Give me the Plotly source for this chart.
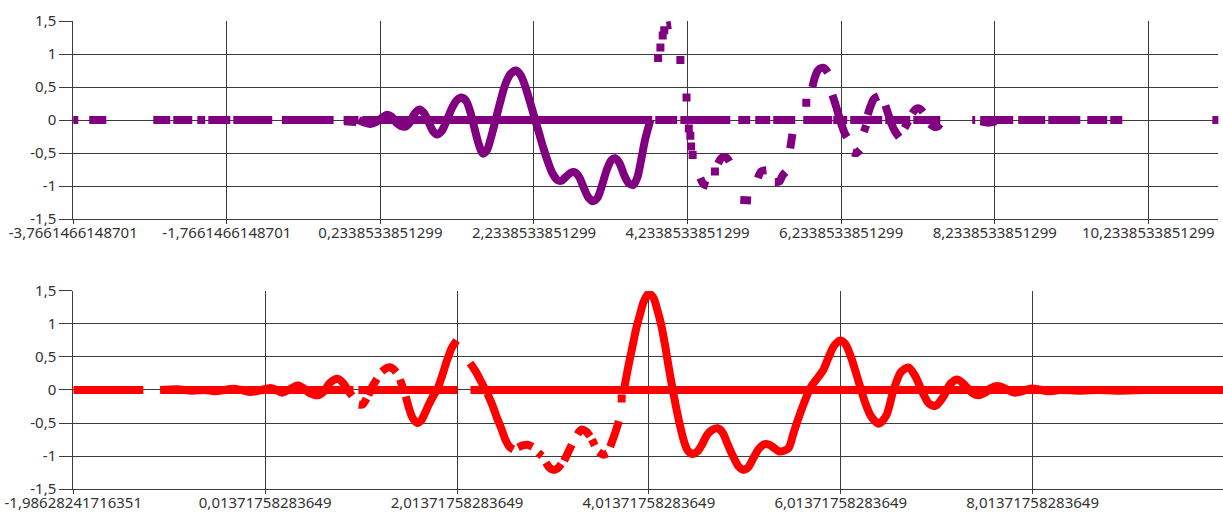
import plotly.graph_objects as go

# ---------------- upper panel (purple samples) ----------------
top_xticks = [-3.7661466148701, -1.7661466148701, 0.2338533851299, 2.2338533851299,
              4.2338533851299, 6.2338533851299, 8.2338533851299, 10.2338533851299]
top_xlabels = ["-3,7661466148701", "-1,7661466148701", "0,2338533851299", "2,2338533851299",
               "4,2338533851299", "6,2338533851299", "8,2338533851299", "10,2338533851299"]
top_xrange = [-3.7661466148701, 11.146]

# stretches of samples lying on the zero level (from, to)
top_zero_from = [-3.558, -2.724, -2.464, -2.151, -2.008, -1.682, -1.049, -0.246, -0.003,
                 3.813, 4.139, 4.894, 5.115, 5.349, 5.740, 6.131, 6.352, 6.808, 7.173,
                 7.941, 8.045, 8.540, 8.931, 9.439, 9.738]
top_zero_to = [-3.336, -2.503, -2.216, -2.047, -1.721, -1.175, -0.376, -0.051, 3.774,
               4.099, 4.790, 5.050, 5.310, 5.636, 6.118, 6.313, 6.769, 7.134, 7.525,
               7.980, 8.475, 8.892, 9.348, 9.699, 9.895]

# runs of consecutive signal samples
top_runs_x = [
    [-0.05, 0.03, 0.10, 0.18, 0.26, 0.32, 0.38, 0.44, 0.50, 0.56, 0.62, 0.68, 0.74, 0.80,
     0.86, 0.92, 0.97, 1.03, 1.10, 1.17, 1.23, 1.29, 1.35, 1.41, 1.46, 1.51, 1.57, 1.62,
     1.68, 1.74, 1.80, 1.86, 1.93, 2.00, 2.06, 2.12, 2.18, 2.24, 2.30, 2.36, 2.42, 2.48,
     2.54, 2.59, 2.65, 2.71, 2.76, 2.82, 2.88, 2.94, 3.00, 3.06, 3.12, 3.18, 3.24, 3.29,
     3.35, 3.41, 3.47, 3.53, 3.58, 3.63, 3.68, 3.75],
    [3.96, 4.02],
    [4.40, 4.44, 4.50],
    [4.63, 4.68, 4.74, 4.78],
    [4.92, 5.06],
    [5.15, 5.19, 5.26],
    [5.37, 5.43, 5.47, 5.51],
    [5.57, 5.60],
    [5.86, 5.89, 5.93, 5.98, 6.02, 6.06],
    [6.12, 6.17, 6.22, 6.28, 6.31],
    [6.38, 6.43, 6.48],
    [6.53, 6.56],
    [6.58, 6.62, 6.66, 6.72],
    [6.81, 6.85, 6.89, 6.94, 6.99],
    [7.06, 7.11],
    [7.16, 7.21, 7.26, 7.30],
    [7.39, 7.44, 7.49, 7.52],
    [8.05, 8.15, 8.25],
    [-0.24, -0.08],
]
top_runs_y = [
    [0.0, -0.04, -0.06, -0.03, 0.04, 0.08, 0.05, -0.04, -0.09, -0.10, -0.03, 0.10, 0.16, 0.11,
     -0.03, -0.17, -0.22, -0.17, 0.0, 0.19, 0.30, 0.34, 0.29, 0.10, -0.13, -0.35, -0.51, -0.46,
     -0.24, 0.03, 0.30, 0.54, 0.70, 0.75, 0.68, 0.51, 0.28, 0.04, -0.20, -0.44, -0.65, -0.82,
     -0.91, -0.92, -0.86, -0.80, -0.79, -0.86, -1.02, -1.17, -1.23, -1.18, -0.99, -0.76, -0.61, -0.58,
     -0.66, -0.84, -0.96, -0.98, -0.87, -0.60, -0.30, 0.0],
    [1.43, 1.44],
    [-0.88, -0.97, -1.0],
    [-0.66, -0.57, -0.57, -0.63],
    [-1.21, -1.22],
    [-0.88, -0.78, -0.76],
    [-0.94, -0.93, -0.84, -0.79],
    [-0.43, -0.21],
    [0.50, 0.64, 0.75, 0.79, 0.78, 0.72],
    [0.38, 0.20, 0.0, -0.20, -0.26],
    [-0.49, -0.50, -0.45],
    [-0.18, -0.08],
    [0.08, 0.22, 0.32, 0.36],
    [0.22, 0.08, -0.06, -0.18, -0.26],
    [-0.12, -0.02],
    [0.10, 0.17, 0.17, 0.12],
    [-0.06, -0.10, -0.10, -0.06],
    [-0.02, -0.04, -0.02],
    [-0.02, -0.03],
]

# isolated samples
top_dots_x = [-3.753, 3.85, 3.88, 3.91, 3.93, 4.14, 4.22, 4.25, 4.27, 4.28, 4.30, 4.59, 5.78, 11.12]
top_dots_y = [0.0, 0.94, 1.10, 1.28, 1.36, 0.91, 0.34, -0.13, -0.24, -0.40, -0.53, -0.78, 0.26, 0.0]

# ---------------- lower panel (red samples) ----------------
bot_xticks = [-1.98628241716351, 0.01371758283649, 2.01371758283649,
              4.01371758283649, 6.01371758283649, 8.01371758283649]
bot_xlabels = ["-1,98628241716351", "0,01371758283649", "2,01371758283649",
               "4,01371758283649", "6,01371758283649", "8,01371758283649"]
bot_xrange = [-1.98628241716351, 9.998]

bot_zero_from = [-1.986, -1.079, 0.986, 2.154]
bot_zero_to = [-1.256, 0.934, 2.018, 9.998]

bot_runs_x = [
    [-1.08, -0.90, -0.75, -0.62, -0.51, -0.41, -0.32, -0.23, -0.14, -0.05, 0.07, 0.13,
     0.19, 0.27, 0.35, 0.41, 0.47, 0.56, 0.62, 0.69, 0.77, 0.83, 0.88, 0.92],
    [0.99, 1.03, 1.07],
    [1.09, 1.13, 1.18],
    [1.23, 1.29, 1.34, 1.38],
    [1.42, 1.45],
    [1.48, 1.51, 1.55, 1.60, 1.64, 1.68, 1.72, 1.77, 1.81, 1.86, 1.91, 1.96, 2.01],
    [2.15, 2.20, 2.25, 2.30],
    [2.33, 2.38, 2.43, 2.48, 2.52, 2.56, 2.60],
    [2.65, 2.70, 2.75, 2.80],
    [2.86, 2.90],
    [2.94, 2.98, 3.02, 3.06, 3.10],
    [3.13, 3.17, 3.21],
    [3.27, 3.31, 3.36, 3.40],
    [3.42, 3.45],
    [3.49, 3.54, 3.58],
    [3.61, 3.66, 3.70],
    [3.76, 3.80, 3.84, 3.88, 3.92, 3.96, 4.01, 4.06, 4.10, 4.14, 4.18, 4.22, 4.26, 4.30,
     4.34, 4.38, 4.42, 4.47, 4.52, 4.57, 4.62, 4.68, 4.73, 4.78, 4.84, 4.90, 4.95, 5.00,
     5.05, 5.10, 5.16, 5.22, 5.27, 5.32, 5.37, 5.42, 5.47, 5.52, 5.57, 5.63, 5.70, 5.76,
     5.83, 5.88, 5.94, 6.01, 6.06, 6.12, 6.17, 6.22, 6.27, 6.33, 6.41, 6.49, 6.56, 6.64,
     6.72, 6.79, 6.87, 6.93, 7.00, 7.08, 7.16, 7.23, 7.31, 7.39, 7.45, 7.52, 7.58, 7.65,
     7.73, 7.82, 7.90, 7.99, 8.08, 8.17, 8.30, 8.50, 8.70, 8.90, 9.20, 9.60, 9.99],
]
bot_runs_y = [
    [0.0, 0.01, -0.01, 0.0, -0.02, 0.0, 0.02, 0.0, -0.03, -0.01, 0.03, 0.0,
     -0.04, 0.01, 0.07, 0.03, -0.04, -0.08, -0.03, 0.11, 0.17, 0.10, -0.01, -0.09],
    [-0.22, -0.22, -0.13],
    [-0.08, 0.05, 0.17],
    [0.28, 0.34, 0.33, 0.27],
    [0.16, 0.03],
    [-0.10, -0.26, -0.42, -0.50, -0.46, -0.35, -0.22, -0.08, 0.02, 0.22, 0.45, 0.64, 0.75],
    [0.41, 0.30, 0.17, 0.03],
    [-0.05, -0.22, -0.42, -0.60, -0.76, -0.86, -0.90],
    [-0.87, -0.84, -0.83, -0.86],
    [-0.95, -1.0],
    [-1.10, -1.18, -1.21, -1.19, -1.12],
    [-1.07, -0.95, -0.83],
    [-0.67, -0.60, -0.63, -0.70],
    [-0.75, -0.84],
    [-0.94, -0.98, -0.96],
    [-0.86, -0.66, -0.47],
    [0.05, 0.36, 0.64, 0.92, 1.14, 1.34, 1.46, 1.40, 1.22, 1.00, 0.70, 0.35, 0.02, -0.28,
     -0.55, -0.78, -0.92, -0.97, -0.93, -0.82, -0.68, -0.60, -0.58, -0.64, -0.84, -1.03, -1.16, -1.21,
     -1.17, -1.04, -0.89, -0.82, -0.83, -0.88, -0.93, -0.92, -0.88, -0.66, -0.44, -0.20, 0.04, 0.16,
     0.30, 0.47, 0.66, 0.75, 0.70, 0.50, 0.27, 0.03, -0.20, -0.40, -0.51, -0.38, -0.02, 0.27,
     0.34, 0.21, -0.05, -0.20, -0.24, -0.11, 0.10, 0.16, 0.07, -0.05, -0.08, -0.04, 0.03, 0.06,
     0.02, -0.04, -0.02, 0.02, 0.01, -0.02, 0.0, -0.01, 0.0, -0.01, 0.0, 0.0, 0.0],
]
bot_dots_x = [3.73]
bot_dots_y = [-0.13]

# shared value axis
y_ticks = [-1.5, -1.0, -0.5, 0.0, 0.5, 1.0, 1.5]
y_labels = ["-1,5", "-1", "-0,5", "0", "0,5", "1", "1,5"]
zero_level = 0.0

PURPLE = "#800080"
RED = "#FF0000"
GRID = "#3c3c3c"
TEXT = "#333333"
FONT = "Noto Sans"
W = 8


def join_runs(runs_x, runs_y):
    xs, ys = [], []
    for rx, ry in zip(runs_x, runs_y):
        xs += list(rx) + [None]
        ys += list(ry) + [None]
    return xs, ys


def join_spans(starts, ends):
    xs, ys = [], []
    for a, b in zip(starts, ends):
        xs += [a, b, None]
        ys += [zero_level, zero_level, None]
    return xs, ys


fig = go.Figure()


def add_panel(color, zfrom, zto, runs_x, runs_y, dots_x, dots_y, xa, ya):
    zx, zy = join_spans(zfrom, zto)
    fig.add_trace(go.Scatter(x=zx, y=zy, mode="lines", xaxis=xa, yaxis=ya,
                             line=dict(color=color, width=W), hoverinfo="skip"))
    cx, cy = join_runs(runs_x, runs_y)
    fig.add_trace(go.Scatter(x=cx, y=cy, mode="lines", xaxis=xa, yaxis=ya,
                             line=dict(color=color, width=W, shape="spline", smoothing=0.8)))
    fig.add_trace(go.Scatter(x=dots_x, y=dots_y, mode="markers", xaxis=xa, yaxis=ya,
                             marker=dict(color=color, symbol="square", size=W)))


add_panel(PURPLE, top_zero_from, top_zero_to, top_runs_x, top_runs_y,
          top_dots_x, top_dots_y, "x", "y")
add_panel(RED, bot_zero_from, bot_zero_to, bot_runs_x, bot_runs_y,
          bot_dots_x, bot_dots_y, "x2", "y2")

tick_font = dict(family=FONT, size=15, color=TEXT)


def x_axis(domain, rng, vals, labels, anchor):
    return dict(domain=domain, range=rng, anchor=anchor, tickmode="array",
                tickvals=vals, ticktext=labels, showgrid=True, gridcolor=GRID,
                gridwidth=1, zeroline=False, showline=True, linecolor=GRID,
                linewidth=1, ticks="outside", ticklen=4, tickcolor=GRID,
                ticklabelstandoff=-4,
                tickfont=tick_font, fixedrange=True, automargin=False)


def y_axis(domain, anchor):
    return dict(domain=domain, range=[-1.5, 1.5], anchor=anchor, tickmode="array",
                tickvals=y_ticks, ticktext=y_labels, showgrid=True, gridcolor=GRID,
                gridwidth=1, zeroline=False, showline=True, linecolor=GRID,
                linewidth=1, ticks="outside", ticklen=13, tickcolor=GRID,
                tickfont=tick_font, fixedrange=True, automargin=False)


fig.update_layout(
    width=1223, height=514,
    margin=dict(l=0, r=0, t=0, b=0, autoexpand=False),
    paper_bgcolor="white", plot_bgcolor="white",
    showlegend=False,
    xaxis=x_axis([0.0599, 0.9962], top_xrange, top_xticks, top_xlabels, "y"),
    yaxis=y_axis([0.5739, 0.9591], "x"),
    xaxis2=x_axis([0.0599, 1.0], bot_xrange, bot_xticks, bot_xlabels, "y2"),
    yaxis2=y_axis([0.0486, 0.4339], "x2"),
)

fig.write_html("out.html")
